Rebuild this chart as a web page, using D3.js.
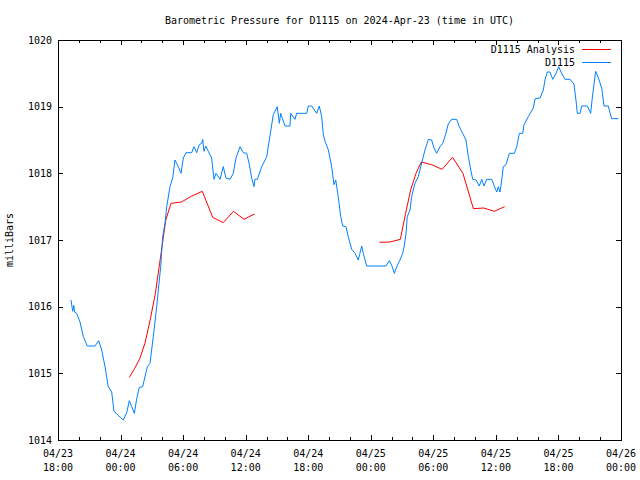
<!DOCTYPE html>
<html>
<head>
<meta charset="utf-8">
<script src="https://cdn.jsdelivr.net/npm/d3@7"></script>
<style>
  html, body { margin: 0; padding: 0; background: #fff; }
  svg { display: block; }
  text { font-family: "DejaVu Sans Mono", "Liberation Mono", monospace; font-size: 10px; fill: #000; }
</style>
</head>
<body>
<svg id="chart" width="640" height="480"></svg>
<script>
// ---- DATA (hours since 2024-04-23 18:00 UTC) ----
const startTime = "2024-04-23T18:00:00Z";
const endTime = "2024-04-26T00:00:00Z";
const yTicks = [1014, 1015, 1016, 1017, 1018, 1019, 1020];
const xTickHours = [0, 6, 12, 18, 24, 30, 36, 42, 48, 54];

const obsHours = [1.25,1.34,1.41,1.51,1.60,1.79,2.11,2.43,2.81,3.55,3.90,4.19,4.51,4.82,5.15,5.37,5.78,6.26,6.59,6.84,7.07,7.32,7.55,7.80,8.12,8.57,8.82,9.14,9.47,9.62,9.85,10.04,10.26,10.43,10.74,11.00,11.22,11.54,11.80,12.02,12.28,12.82,13.04,13.30,13.55,13.78,13.88,14.00,14.17,14.42,14.74,14.96,15.15,15.54,15.85,16.11,16.50,16.81,17.07,17.46,17.77,18.10,18.35,18.58,18.80,18.89,19.12,19.54,20.02,20.27,20.65,21.03,21.23,21.36,21.53,21.77,22.25,22.32,22.73,22.89,23.85,24.01,24.33,24.81,25.06,25.29,25.45,25.61,25.93,26.25,26.47,26.64,26.88,27.12,27.31,27.62,27.84,28.17,28.49,28.80,28.96,29.13,29.28,29.61,31.46,31.78,32.01,32.26,32.49,32.80,33.06,33.21,33.38,33.50,33.76,33.92,34.24,34.56,34.79,35.20,35.52,35.84,36.06,36.32,36.64,36.90,37.21,37.43,37.76,38.24,38.49,38.82,39.13,39.36,39.59,39.78,40.09,40.41,40.64,40.86,41.12,41.60,41.92,42.08,42.24,42.39,42.56,42.71,42.97,43.29,43.77,44.00,44.25,44.57,44.70,45.11,45.59,45.76,46.23,46.55,46.71,46.93,47.19,47.45,47.77,48.02,48.31,48.63,49.11,49.49,49.68,49.81,50.07,50.23,50.77,51.09,51.28,51.57,51.79,52.15,52.37,52.78,53.10,53.74];
const obsValues = [1016.10,1016.00,1015.93,1016.02,1015.92,1015.90,1015.77,1015.55,1015.41,1015.41,1015.49,1015.35,1015.10,1014.80,1014.72,1014.43,1014.37,1014.30,1014.41,1014.59,1014.50,1014.40,1014.62,1014.79,1014.80,1015.10,1015.15,1015.55,1016.00,1016.25,1016.60,1017.05,1017.25,1017.50,1017.80,1017.93,1018.20,1018.10,1018.00,1018.23,1018.31,1018.31,1018.40,1018.31,1018.43,1018.45,1018.51,1018.33,1018.41,1018.33,1018.23,1017.91,1018.00,1017.91,1018.10,1017.93,1017.91,1018.00,1018.23,1018.40,1018.31,1018.30,1018.13,1017.93,1017.80,1017.91,1017.91,1018.10,1018.25,1018.50,1018.88,1019.00,1018.75,1018.90,1018.82,1018.71,1018.71,1018.90,1018.81,1018.90,1018.90,1019.01,1019.01,1018.90,1019.01,1018.85,1018.58,1018.48,1018.35,1018.10,1017.83,1017.90,1017.65,1017.35,1017.21,1017.20,1017.05,1016.86,1016.80,1016.70,1016.80,1016.91,1016.80,1016.61,1016.61,1016.69,1016.62,1016.50,1016.60,1016.70,1016.80,1016.91,1017.10,1017.35,1017.45,1017.65,1017.85,1017.95,1018.10,1018.35,1018.51,1018.50,1018.38,1018.30,1018.40,1018.45,1018.60,1018.74,1018.81,1018.81,1018.70,1018.60,1018.50,1018.25,1018.05,1017.91,1017.90,1017.81,1017.91,1017.81,1017.91,1017.91,1017.78,1017.72,1017.80,1017.72,1017.90,1018.10,1018.13,1018.30,1018.30,1018.40,1018.60,1018.60,1018.73,1018.85,1018.98,1019.12,1019.13,1019.25,1019.40,1019.52,1019.52,1019.41,1019.50,1019.60,1019.50,1019.41,1019.41,1019.34,1019.10,1018.90,1018.90,1019.01,1019.01,1018.90,1019.18,1019.53,1019.45,1019.28,1019.01,1019.01,1018.82,1018.82];

const anaHours1 = [6.84,7.34,7.84,8.34,8.84,9.34,9.84,10.34,10.84,11.84,12.84,13.84,14.84,15.84,16.84,17.84,18.84];
const anaValues1 = [1014.94,1015.07,1015.22,1015.45,1015.80,1016.20,1016.75,1017.30,1017.55,1017.57,1017.66,1017.73,1017.34,1017.26,1017.43,1017.31,1017.39];
const anaHours2 = [30.84,31.84,32.84,33.34,33.84,34.34,34.84,35.84,36.84,37.84,38.84,39.84,40.84,41.84,42.84];
const anaValues2 = [1016.965,1016.97,1017.01,1017.40,1017.76,1018.00,1018.17,1018.13,1018.06,1018.24,1018.00,1017.47,1017.48,1017.43,1017.50];

const titleText = "Barometric Pressure for D1115 on 2024-Apr-23 (time in UTC)";
const yLabel = "milliBars";
const legendNames = ["D1115 Analysis", "D1115"];
const colors = ["#ff0000", "#0080ff"];

// ---- CHART ----
const svg = d3.select("#chart");
const L = 58, R = 621, T = 40, B = 440;
const t0 = new Date(startTime);
const toDate = h => new Date(t0.getTime() + h * 3600e3);

const x = d3.scaleUtc().domain([new Date(startTime), new Date(endTime)]).range([L, R]);
const y = d3.scaleLinear().domain([1014, 1020]).range([B, T]);

const majorTicks = xTickHours.map(toDate);
const minorTicks = d3.range(0, 55, 2).filter(h => h % 6 !== 0).map(toDate);

function axisGroup(axis, tx, ty) {
  const g = svg.append("g").attr("transform", `translate(${tx},${ty})`).call(axis);
  g.selectAll("path.domain").remove();
  g.selectAll("line").attr("stroke", "#000").attr("shape-rendering", "crispEdges");
  return g;
}

// x ticks bottom/top (inward)
axisGroup(d3.axisBottom(x).tickValues(majorTicks).tickSize(-5).tickFormat(""), 0, B);
axisGroup(d3.axisBottom(x).tickValues(minorTicks).tickSize(-3).tickFormat(""), 0, B);
axisGroup(d3.axisTop(x).tickValues(majorTicks).tickSize(-5).tickFormat(""), 0, T);
axisGroup(d3.axisTop(x).tickValues(minorTicks).tickSize(-3).tickFormat(""), 0, T);

// y ticks left/right
const yl = axisGroup(d3.axisLeft(y).tickValues(yTicks).tickSize(-5).tickPadding(6).tickFormat(d3.format("d")), L, 0);
yl.selectAll("text").attr("font-family", null).attr("font-size", null);
axisGroup(d3.axisRight(y).tickValues(yTicks).tickSize(-5).tickFormat(""), R, 0);

// x tick labels (two lines)
const fmtDate = d3.utcFormat("%m/%d"), fmtTime = d3.utcFormat("%H:%M");
const xl = svg.append("g").selectAll("text").data(majorTicks).join("text")
  .attr("x", d => x(d)).attr("text-anchor", "middle");
xl.append("tspan").attr("x", d => x(d)).attr("y", 457).text(d => fmtDate(d));
xl.append("tspan").attr("x", d => x(d)).attr("y", 471).text(d => fmtTime(d));

// border
svg.append("rect").attr("x", L + 0.5).attr("y", T + 0.5).attr("width", R - L).attr("height", B - T)
  .attr("fill", "none").attr("stroke", "#000").attr("shape-rendering", "crispEdges");

// lines
const line = d3.line().x(d => x(toDate(d[0]))).y(d => y(d[1]));
const obs = obsHours.map((h, i) => [h, obsValues[i]]);
const ana1 = anaHours1.map((h, i) => [h, anaValues1[i]]);
const ana2 = anaHours2.map((h, i) => [h, anaValues2[i]]);

svg.append("path").datum(ana1).attr("d", line).attr("fill", "none").attr("stroke", colors[0]).attr("stroke-width", 1);
svg.append("path").datum(ana2).attr("d", line).attr("fill", "none").attr("stroke", colors[0]).attr("stroke-width", 1);
svg.append("path").datum(obs).attr("d", line).attr("fill", "none").attr("stroke", colors[1]).attr("stroke-width", 1);

// title
svg.append("text").attr("x", (L + R) / 2).attr("y", 24).attr("text-anchor", "middle").text(titleText);

// y label
svg.append("text").attr("transform", "translate(13,240) rotate(-90)").attr("text-anchor", "middle").text(yLabel);

// legend
legendNames.forEach((name, i) => {
  const ly = 49 + i * 13;
  svg.append("text").attr("x", 575).attr("y", ly + 4).attr("text-anchor", "end").text(name);
  svg.append("line").attr("x1", 582).attr("x2", 611).attr("y1", ly + 0.5).attr("y2", ly + 0.5)
    .attr("stroke", colors[i]).attr("shape-rendering", "crispEdges");
});
</script>
</body>
</html>
